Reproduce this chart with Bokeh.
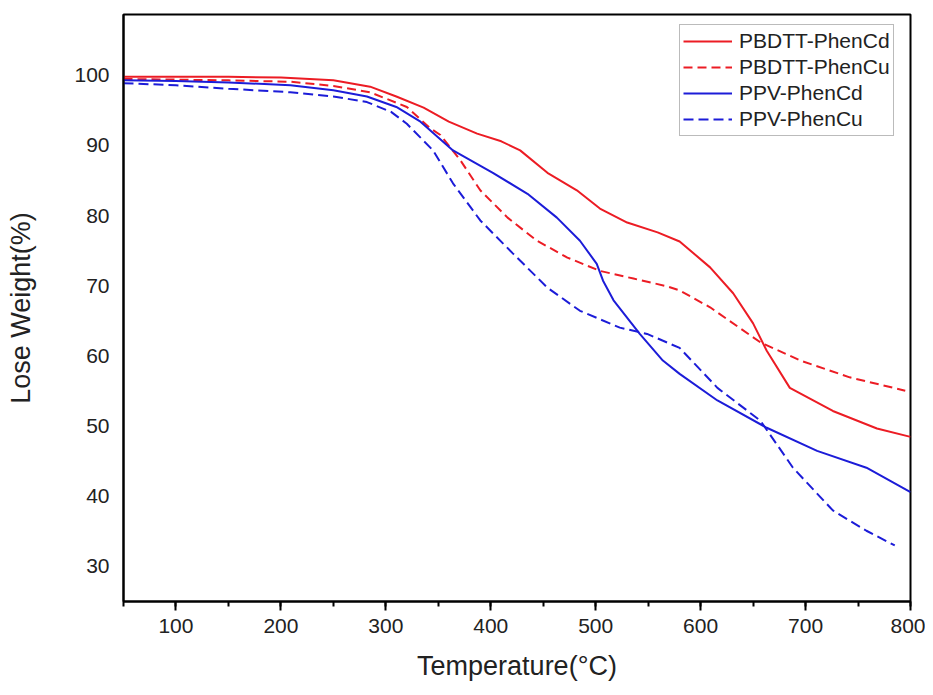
from bokeh.plotting import figure
from bokeh.models import Range1d, SingleIntervalTicker, FixedTicker, Legend, LegendItem
from bokeh.embed import file_html
from bokeh.resources import INLINE

# PBDTT-PhenCd (solid red)
t_pbdtt_cd = [50, 100, 150, 200, 250, 285, 310, 336, 360, 387, 410, 428, 454, 482, 504, 530, 559, 580, 609, 631, 650, 663, 685, 726, 768, 800]
w_pbdtt_cd = [99.8, 99.8, 99.8, 99.7, 99.3, 98.4, 97.0, 95.4, 93.4, 91.7, 90.6, 89.3, 86.1, 83.6, 81.0, 79.0, 77.6, 76.3, 72.6, 68.9, 64.6, 60.7, 55.4, 52.1, 49.6, 48.4]

# PBDTT-PhenCu (dashed red)
t_pbdtt_cu = [50, 100, 150, 209, 250, 285, 320, 342, 352, 371, 390, 416, 444, 473, 504, 536, 568, 580, 609, 657, 695, 742, 795]
w_pbdtt_cu = [99.5, 99.4, 99.3, 99.1, 98.5, 97.6, 95.5, 92.5, 91.5, 87.9, 83.6, 79.7, 76.4, 74.0, 72.1, 71.0, 69.9, 69.3, 66.9, 61.9, 59.3, 56.9, 55.0]

# PPV-PhenCd (solid blue)
t_ppv_cd = [50, 100, 150, 209, 250, 282, 310, 333, 364, 402, 435, 463, 485, 501, 507, 517, 542, 564, 580, 616, 663, 711, 758, 800]
w_ppv_cd = [99.3, 99.2, 99.0, 98.6, 97.9, 97.0, 95.5, 93.4, 89.3, 86.1, 83.1, 79.7, 76.4, 73.1, 70.7, 67.9, 63.1, 59.3, 57.4, 53.6, 49.7, 46.4, 44.0, 40.5]

# PPV-PhenCu (dashed blue)
t_ppv_cu = [50, 100, 150, 209, 250, 282, 305, 320, 345, 364, 390, 421, 454, 485, 523, 549, 580, 616, 657, 688, 726, 758, 785]
w_ppv_cu = [98.9, 98.6, 98.1, 97.6, 97.0, 96.2, 94.8, 93.1, 89.3, 84.6, 79.3, 74.6, 69.7, 66.4, 64.0, 63.1, 61.1, 55.4, 50.7, 44.0, 37.9, 35.0, 32.9]

y_ticks = [30, 40, 50, 60, 70, 80, 90, 100]
series_names = ["PBDTT-PhenCd", "PBDTT-PhenCu", "PPV-PhenCd", "PPV-PhenCu"]

RED = "#ec1c24"
BLUE = "#1c1cd8"
FONT = "Liberation Sans"

p = figure(width=925, height=687, output_backend="svg", toolbar_location=None,
           x_range=Range1d(50, 800), y_range=Range1d(24.9, 108.7),
           min_border_left=123, min_border_right=15, min_border_top=14, min_border_bottom=86)
p.background_fill_color = "white"
p.border_fill_color = "white"
p.outline_line_color = "black"
p.outline_line_width = 2
p.grid.visible = False

r1 = p.line(t_pbdtt_cd, w_pbdtt_cd, line_color=RED, line_width=2)
r2 = p.line(t_pbdtt_cu, w_pbdtt_cu, line_color=RED, line_width=2, line_dash="9 5")
r3 = p.line(t_ppv_cd, w_ppv_cd, line_color=BLUE, line_width=2)
r4 = p.line(t_ppv_cu, w_ppv_cu, line_color=BLUE, line_width=2, line_dash="10 5")

xa = p.xaxis[0]
xa.ticker = SingleIntervalTicker(interval=100, num_minor_ticks=2)
xa.axis_line_width = 2
xa.major_tick_line_width = 2
xa.minor_tick_line_width = 2
xa.major_tick_in = 0
xa.major_tick_out = 9
xa.minor_tick_in = 0
xa.minor_tick_out = 5
xa.major_label_text_font = FONT
xa.major_label_text_font_size = "21px"
xa.major_label_text_color = "#222222"
xa.major_label_standoff = 8
xa.axis_label = "Temperature(°C)"
xa.axis_label_text_font = FONT
xa.axis_label_text_font_size = "27px"
xa.axis_label_text_font_style = "normal"
xa.axis_label_text_color = "#222222"
xa.axis_label_standoff = 15

ya = p.yaxis[0]
ya.ticker = FixedTicker(ticks=y_ticks)
ya.axis_line_width = 2
ya.major_tick_in = 0
ya.major_tick_out = 0
ya.minor_tick_in = 0
ya.minor_tick_out = 0
ya.major_label_text_font = FONT
ya.major_label_text_font_size = "21px"
ya.major_label_text_color = "#222222"
ya.major_label_standoff = 14
ya.axis_label = "Lose Weight(%)"
ya.axis_label_text_font = FONT
ya.axis_label_text_font_size = "27px"
ya.axis_label_text_font_style = "normal"
ya.axis_label_text_color = "#222222"
ya.axis_label_standoff = 35

legend = Legend(items=[LegendItem(label=series_names[0], renderers=[r1]),
                       LegendItem(label=series_names[1], renderers=[r2]),
                       LegendItem(label=series_names[2], renderers=[r3]),
                       LegendItem(label=series_names[3], renderers=[r4])],
                location=(556, 465))
legend.margin = 0
legend.padding = 3
legend.spacing = 0
legend.glyph_width = 49
legend.glyph_height = 26
legend.label_height = 26
legend.label_standoff = 7
legend.label_text_font = FONT
legend.label_text_font_size = "21px"
legend.label_text_color = "#222222"
legend.border_line_color = "#777777"
legend.border_line_width = 1
legend.background_fill_alpha = 1.0
p.add_layout(legend, "center")

open("out.html", "w").write(file_html(p, INLINE))
